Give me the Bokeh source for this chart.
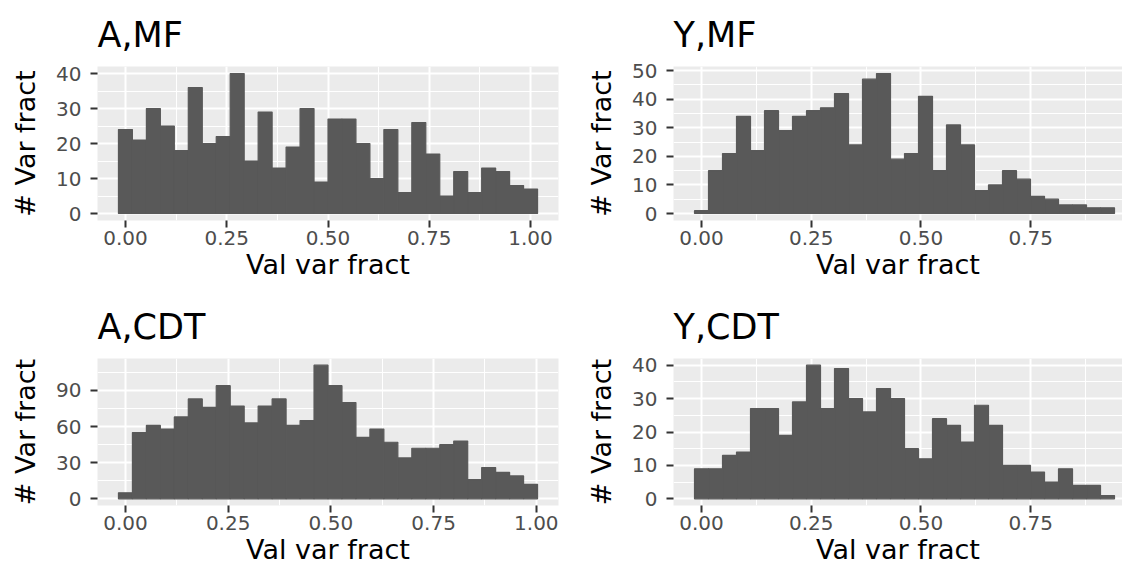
from bokeh.plotting import figure
from bokeh.layouts import gridplot
from bokeh.models import FixedTicker, Title, NumeralTickFormatter
from bokeh.embed import file_html
from bokeh.resources import INLINE

# ---------------- data (30-bin histograms) ----------------
titles = ["A,MF", "Y,MF", "A,CDT", "Y,CDT"]

counts_a_mf = [24, 21, 30, 25, 18, 36, 20, 22, 40, 15, 29, 13, 19, 30, 9,
               27, 27, 20, 10, 24, 6, 26, 17, 5, 12, 6, 13, 12, 8, 7]
counts_y_mf = [1, 15, 21, 34, 22, 36, 29, 34, 36, 37, 42, 24, 47, 49, 19,
               21, 41, 15, 31, 24, 8, 10, 15, 12, 6, 5, 3, 3, 2, 2]
counts_a_cdt = [5, 55, 61, 58, 68, 83, 76, 94, 77, 63, 77, 83, 61, 65, 111,
                94, 80, 51, 58, 47, 34, 42, 42, 45, 48, 16, 26, 22, 19, 12]
counts_y_cdt = [9, 9, 13, 14, 27, 27, 19, 29, 40, 27, 39, 30, 26, 33, 30,
                15, 12, 24, 22, 17, 28, 22, 10, 10, 8, 5, 9, 4, 4, 1]

# bin-centre range (first and last bin centre) of each histogram
bin_range_a_mf = (0.0, 1.0)
bin_range_y_mf = (0.0, 0.925)
bin_range_a_cdt = (0.0, 0.986)
bin_range_y_cdt = (0.0, 0.925)

x_ticks = [0.0, 0.25, 0.5, 0.75, 1.0]
x_minor = [0.125, 0.375, 0.625, 0.875]
y_ticks_a_mf = [0, 10, 20, 30, 40]
y_ticks_y_mf = [0, 10, 20, 30, 40, 50]
y_ticks_a_cdt = [0, 30, 60, 90]
y_ticks_y_cdt = [0, 10, 20, 30, 40]

x_label = "Val var fract"
y_label = "# Var fract"

# ---------------- styling ----------------
FONT = "DejaVu Sans"
BG = "#EBEBEB"
BAR = "#595959"


def make_panel(title, counts, brange, yticks, width, height, b_left, b_right,
               b_top, b_bottom, right_crop):
    n = len(counts)
    lo, hi = brange
    w = (hi - lo) / (n - 1)
    centers = [lo + i * w for i in range(n)]
    L, R = lo - w / 2, hi + w / 2
    xs = L - 0.05 * (R - L)
    xe = R + 0.05 * (R - L)
    if right_crop:
        xe = xs + (xe - xs) * right_crop
    ymax = max(counts)
    ys, ye = -0.05 * ymax, 1.05 * ymax

    p = figure(width=width, height=height, output_backend="svg",
               toolbar_location=None, x_range=(xs, xe), y_range=(ys, ye),
               min_border_left=b_left, min_border_right=b_right,
               min_border_top=b_top, min_border_bottom=b_bottom,
               background_fill_color=BG, border_fill_color="white",
               outline_line_color=None)
    p.title = Title(text=title, align="left", text_font=FONT,
                    text_font_size="35px", text_font_style="normal",
                    text_color="black", offset=0, standoff=24)

    p.vbar(x=centers, width=w, top=counts, bottom=0,
           fill_color=BAR, line_color=BAR, line_width=1.2)

    minor_y = [(yticks[i] + yticks[i + 1]) / 2 for i in range(len(yticks) - 1)]
    minor_y.append(yticks[-1] + (yticks[1] - yticks[0]) / 2)
    p.xaxis.ticker = FixedTicker(ticks=x_ticks, minor_ticks=x_minor)
    p.yaxis.ticker = FixedTicker(ticks=yticks, minor_ticks=minor_y)
    p.xaxis.formatter = NumeralTickFormatter(format="0.00")

    for ax in (p.xaxis, p.yaxis):
        ax.axis_line_color = None
        ax.major_tick_line_color = "#333333"
        ax.major_tick_line_width = 2
        ax.major_tick_out = 7
        ax.major_tick_in = 0
        ax.minor_tick_line_color = None
        ax.major_label_text_font = FONT
        ax.major_label_text_font_size = "20px"
        ax.major_label_text_color = "#4D4D4D"
        ax.axis_label_text_font = FONT
        ax.axis_label_text_font_size = "27px"
        ax.axis_label_text_font_style = "normal"
        ax.axis_label_text_color = "black"
    p.xaxis.axis_label = x_label
    p.yaxis.axis_label = y_label
    p.xaxis.major_label_standoff = 3
    p.yaxis.major_label_standoff = 9
    p.xaxis.axis_label_standoff = 1
    p.yaxis.axis_label_standoff = 12

    p.grid.grid_line_color = "white"
    p.grid.grid_line_width = 2
    p.grid.minor_grid_line_color = "white"
    p.grid.minor_grid_line_width = 1
    return p


W = 561
crop = 449 / 462
p1 = make_panel(titles[0], counts_a_mf, bin_range_a_mf, y_ticks_a_mf,
                W, 292, 97, 3, 64, 72, None)
p2 = make_panel(titles[1], counts_y_mf, bin_range_y_mf, y_ticks_y_mf,
                W, 292, 112, 0, 64, 72, crop)
p3 = make_panel(titles[2], counts_a_cdt, bin_range_a_cdt, y_ticks_a_cdt,
                W, 275, 97, 3, 61, 62, None)
p4 = make_panel(titles[3], counts_y_cdt, bin_range_y_cdt, y_ticks_y_cdt,
                W, 275, 112, 0, 61, 62, crop)

grid = gridplot([[p1, p2], [p3, p4]], toolbar_location=None)

open("out.html", "w").write(file_html(grid, INLINE))
